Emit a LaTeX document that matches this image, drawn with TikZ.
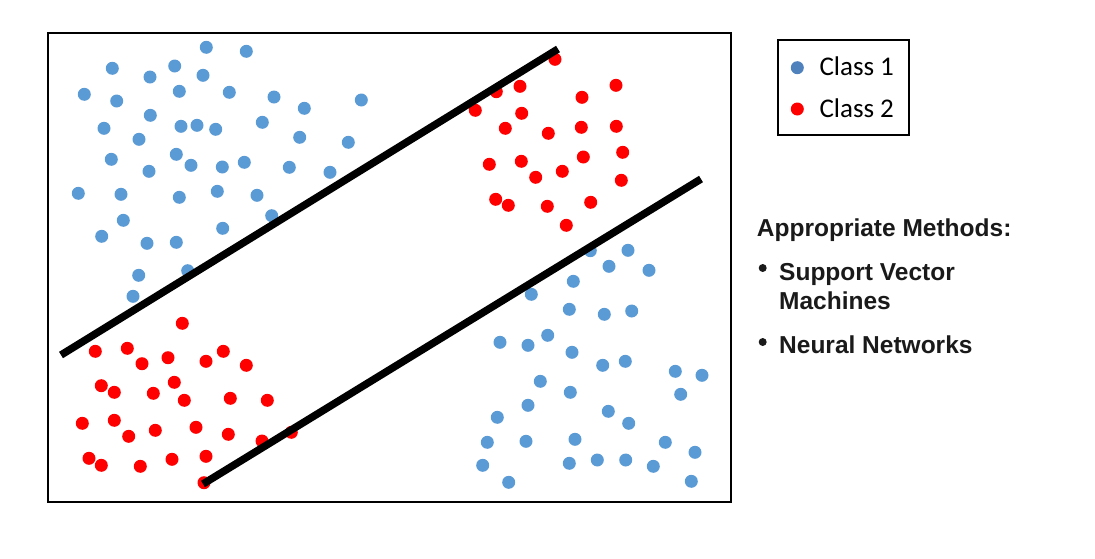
\documentclass[tikz,border=0pt]{standalone}
\usepackage{fontspec}
\setmainfont{Carlito}
\newfontfamily\arialfont{Liberation Sans}
\usetikzlibrary{positioning}

\definecolor{classone}{HTML}{5B9BD5}
\definecolor{classonekey}{HTML}{4F81BD}
\definecolor{classtwo}{HTML}{FF0000}
\definecolor{methodtext}{HTML}{1A1A1A}

\tikzset{
  dot/.style={circle,inner sep=0pt,minimum size=13pt},
  bluedot/.style={dot,fill=classone},
  reddot/.style={dot,fill=classtwo},
  bulletdot/.style={circle,fill=methodtext,inner sep=0pt,minimum size=8pt},
  boundary/.style={line width=7.5pt},
  keytext/.style={anchor=base west,inner sep=0pt,font=\fontsize{27}{32}\selectfont},
  methodtext/.style={anchor=base west,inner sep=0pt,text=methodtext,font=\arialfont\bfseries\fontsize{24.5}{29}\selectfont}
}

\begin{document}
\begin{tikzpicture}[x=1pt,y=-1pt]
\useasboundingbox (0,0) rectangle (1095,558);

% plot frame
\node[draw,line width=2pt,minimum width=683pt,minimum height=469pt,inner sep=0pt] (plot) at (389,267) {};

% Class 1, upper left
\foreach \x/\y [count=\i] in {206.3/47.3,246.3/51.3,112.3/68.3,174.7/66,150/77,203/75.3,84.3/94.3,116.7/101,
  179.3/91.3,229.3/92.3,274/97,304.3/108.3,361.3/100,150.3/115.3,104/128.3,181/126.3,197/125.3,215.7/129.3,
  262.3/122.3,139/139.3,299.7/137.3,348.3/142.3,111.3/159.3,176.3/154.3,191/165.3,222.3/167,244.3/162.3,
  289.3/167.3,330/172.3,149/171.3,78.3/193.3,121/194.3,179.3/197.3,217.3/191.3,257/195.3,271.7/215.7,
  123.3/220.3,101.7/236.3,147/243.3,176.3/242.3,222.7/228.3,138.7/275.3,187.7/270.7,133/296.3}
  \node[bluedot] (ul\i) at (\x,\y) {};

% Class 1, lower right
\foreach \x/\y [count=\i] in {590.3/250.7,628/250.3,609/266.3,649/270.3,573.3/281.3,531.3/294.3,569.3/309.3,
  604.3/314.3,631.7/311,500/342.3,528/345.3,547.7/335.3,572/352.3,602.7/365.3,625.3/361.3,675.3/371.3,
  702/375.3,680.7/394.3,540.3/381.3,570.3/392.3,528/405.3,497.3/417.3,608.3/411.3,628.7/423.3,487.3/442.3,
  526/441.3,575/439.3,665.3/442.3,695/452.3,482.7/465.3,569.3/463.3,597.3/460,625.7/460,653.3/466.3,
  508.7/482.3,691.3/481.3}
  \node[bluedot] (lr\i) at (\x,\y) {};

% Class 2, upper right
\foreach \x/\y [count=\i] in {555/59.3,496.3/91.7,520/86.3,616/85.3,582/97.3,475.3/110.3,521.7/113.3,
  505.3/128.3,548.3/133.3,581.3/127.3,616.3/126.3,622.7/152.3,583.3/157,489.3/164.3,521.3/161.3,
  535.7/177.3,562.3/171.3,621.3/180.3,495.7/199.3,508.3/205.3,547.3/206.3,590.7/202.3,566.3/225.3}
  \node[reddot] (ur\i) at (\x,\y) {};

% Class 2, lower left
\foreach \x/\y [count=\i] in {182.3/323.3,95.3/351.3,127.3/348.3,142/363.7,168/357.7,206/361.3,223.3/351.3,
  246.3/365.3,101.3/385.7,114.3/392.3,153.3/393.3,174.3/382.3,184.3/400.3,230.3/398.3,267.3/400.3,
  82.3/423.3,114.3/420.3,128.7/436.3,155.3/430.3,196/427.3,228.3/434.3,262/441,291.3/432.3,89/458.3,
  101.3/465.3,140.3/466.3,172/459.3,206/456.3,204/482.7}
  \node[reddot] (ll\i) at (\x,\y) {};

% separating lines
\coordinate (upperA) at (61,355);
\coordinate (upperB) at (558,49);
\coordinate (lowerA) at (203,484);
\coordinate (lowerB) at (701,179);
\draw[boundary] (upperA) -- (upperB);
\draw[boundary] (lowerA) -- (lowerB);

% legend
\node[draw,line width=2pt,minimum width=131pt,minimum height=95pt,inner sep=0pt] (legend) at (843.5,87) {};
\node[dot,fill=classonekey] (keyone) at (797.3,67.7) {};
\node[reddot] (keytwo) at (797.3,109) {};
\node[keytext] (classonetxt) at (819.3,75) {Class 1};
\node[keytext] (classtwotxt) at (819.3,117.3) {Class 2};

% methods
\node[methodtext] (methods) at (756.7,236.7) {Appropriate Methods:};
\node[bulletdot] (bulletone) at (762.7,268) {};
\node[methodtext] (svm) at (779,280) {Support Vector};
\node[methodtext] (svmtwo) at (779,309) {Machines};
\node[bulletdot] (bullettwo) at (762.7,342) {};
\node[methodtext] (nn) at (779,353.3) {Neural Networks};

\end{tikzpicture}
\end{document}
